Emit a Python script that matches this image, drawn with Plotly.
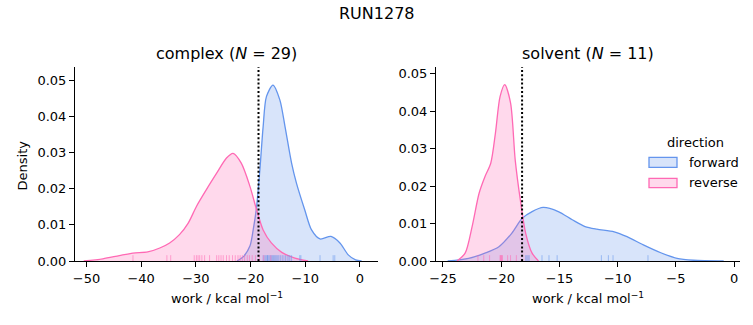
import plotly.graph_objects as go

# ---- data ---------------------------------------------------------------
title = "RUN1278"
phases = ["complex", "solvent"]
n_pairs = [29, 11]
directions = ["forward", "reverse"]

# kernel density curves (work in kcal/mol, density)
complex_fwd_x = [-22.5, -21.3, -20.1, -19.5, -18.9, -18.3, -17.7, -17.1, -15.9, -14.65,
                 -13.7, -12.5, -11.6, -10.1, -8.85, -7.3, -5.3, -3.66, -2.14, -0.8, 0.3]
complex_fwd_density = [0.0, 0.0012, 0.0042, 0.0088, 0.0150, 0.0252, 0.0372, 0.0455, 0.0487, 0.0446,
                       0.0372, 0.0271, 0.0215, 0.0142, 0.0086, 0.0061, 0.0068, 0.0050, 0.0017, 0.0003, 0.0]

complex_rev_x = [-50.5, -47.0, -44.0, -41.5, -38.8, -36.6, -34.8, -33.0, -31.4, -29.9, -28.1,
                 -26.2, -24.4, -23.2, -21.7, -20.1, -18.9, -17.7, -16.2, -14.3, -11.9, -9.5]
complex_rev_density = [0.0, 0.0006, 0.0015, 0.0022, 0.0025, 0.0036, 0.0050, 0.0073, 0.0105, 0.0151, 0.0197,
                       0.0243, 0.0285, 0.0298, 0.0271, 0.0206, 0.0142, 0.0086, 0.0050, 0.0024, 0.0008, 0.0]

solvent_fwd_x = [-24.6, -22.8, -21.4, -20.2, -19.1, -18.2, -17.35, -16.4, -15.1, -13.9, -12.8,
                 -11.8, -10.3, -9.2, -7.8, -6.3, -4.9, -3.5, -0.9]
solvent_fwd_density = [0.0, 0.0007, 0.0021, 0.0038, 0.0074, 0.0114, 0.0132, 0.0143, 0.0132, 0.0110, 0.0092,
                       0.0085, 0.0078, 0.0065, 0.0043, 0.0022, 0.0007, 0.0002, 0.0]

solvent_rev_x = [-23.8, -23.1, -22.5, -21.9, -21.4, -20.9, -20.5, -20.1, -19.7, -19.2, -18.8,
                 -18.36, -17.9, -17.35, -16.8]
solvent_rev_density = [0.0, 0.0021, 0.0092, 0.0181, 0.0225, 0.0261, 0.0341, 0.0439, 0.0471, 0.0422, 0.0270,
                       0.0163, 0.0074, 0.0021, 0.0]

# individual work values (rug)
complex_fwd_work = [-17.7, -17.4, -17.2, -17.0, -16.9, -16.8, -16.6, -16.4, -16.2, -16.0, -15.8, -15.6,
                    -15.4, -15.2, -15.0, -14.8, -14.5, -14.2, -13.9, -13.6, -13.3, -13.0, -12.8, -12.5,
                    -11.0, -10.8, -7.3, -4.9, -4.6]
complex_rev_work = [-41.5, -35.3, -34.6, -30.3, -29.9, -29.6, -29.3, -28.9, -28.4, -27.5, -26.2, -25.8,
                    -25.4, -25.0, -24.4, -23.9, -23.3, -22.8, -22.3, -21.9, -21.5, -21.1, -20.6, -20.2,
                    -19.7, -19.1, -18.4, -17.6, -16.3]
solvent_fwd_work = [-17.9, -17.8, -17.7, -17.6, -16.5, -15.9, -15.2, -11.4, -10.8, -10.4, -7.4]
solvent_rev_work = [-22.0, -21.5, -21.0, -20.1, -20.05, -20.0, -19.95, -19.9, -19.45, -19.2, -18.7]

# free energy estimate marked by the dotted line
complex_dg = -18.55
solvent_dg = -18.21

complex_ticks = [-50, -40, -30, -20, -10, 0]
solvent_ticks = [-25, -20, -15, -10, -5, 0]
density_ticks = [0.00, 0.01, 0.02, 0.03, 0.04, 0.05]

# ---- styling ------------------------------------------------------------
FONT = "DejaVu Sans"
W, H = 753, 325
line_col = {"forward": "rgb(100,149,237)", "reverse": "rgb(255,105,180)"}
fill_col = {"forward": "rgba(100,149,237,0.25)", "reverse": "rgba(255,105,180,0.25)"}
rug_col = {"forward": "rgba(100,149,237,0.55)", "reverse": "rgba(255,105,180,0.55)"}

xdom = [[75 / W, 378 / W], [436 / W, 740 / W]]
ydom = [(H - 261) / H, (H - 67) / H]
xranges = [[-52.1, 3.3], [-25.6, 0.5]]
yranges = [[0, 0.0537], [0, 0.0518]]

curves = {
    ("complex", "forward"): (complex_fwd_x, complex_fwd_density),
    ("complex", "reverse"): (complex_rev_x, complex_rev_density),
    ("solvent", "forward"): (solvent_fwd_x, solvent_fwd_density),
    ("solvent", "reverse"): (solvent_rev_x, solvent_rev_density),
}
rugs = {
    ("complex", "forward"): complex_fwd_work,
    ("complex", "reverse"): complex_rev_work,
    ("solvent", "forward"): solvent_fwd_work,
    ("solvent", "reverse"): solvent_rev_work,
}
dgs = {"complex": complex_dg, "solvent": solvent_dg}

fig = go.Figure()

for i, phase in enumerate(phases):
    xa = "x" if i == 0 else "x2"
    ya = "y" if i == 0 else "y2"
    for d in directions:
        xs, ds = curves[(phase, d)]
        fig.add_trace(go.Scatter(
            x=xs, y=ds, mode="lines", xaxis=xa, yaxis=ya,
            line=dict(color=line_col[d], width=1.3, shape="spline", smoothing=0.8),
            fill="tozeroy", fillcolor=fill_col[d], showlegend=False, hoverinfo="skip"))
    rug_h = 0.03 * yranges[i][1]
    for d in directions:
        rx, ry = [], []
        for v in rugs[(phase, d)]:
            rx += [v, v, None]
            ry += [0, rug_h, None]
        fig.add_trace(go.Scatter(
            x=rx, y=ry, mode="lines", xaxis=xa, yaxis=ya,
            line=dict(color=rug_col[d], width=1), showlegend=False, hoverinfo="skip"))
    fig.add_shape(type="line", xref=xa, yref=f"{ya} domain",
                  x0=dgs[phase], x1=dgs[phase], y0=0, y1=1,
                  line=dict(color="black", width=2, dash="2px,2.2px"))

axis_common = dict(showline=True, linecolor="black", linewidth=1, ticks="outside",
                   ticklen=5, tickwidth=1, tickcolor="black", showgrid=False, zeroline=False,
                   tickfont=dict(family=FONT, size=13, color="black"), mirror=False,
                   automargin=False)

fig.update_layout(
    width=W, height=H, autosize=False,
    margin=dict(l=0, r=0, t=0, b=0, pad=0, autoexpand=False),
    paper_bgcolor="white", plot_bgcolor="white", showlegend=False,
    xaxis=dict(domain=xdom[0], range=xranges[0], tickvals=complex_ticks, anchor="y", **axis_common),
    yaxis=dict(domain=ydom, range=yranges[0], tickvals=density_ticks, tickformat=".2f", anchor="x", **axis_common),
    xaxis2=dict(domain=xdom[1], range=xranges[1], tickvals=solvent_ticks, anchor="y2", **axis_common),
    yaxis2=dict(domain=ydom, range=yranges[1], tickvals=density_ticks, tickformat=".2f", anchor="x2", **axis_common),
)


def label(text, px, py, size=13, **kw):
    return dict(text=text, x=px / W, y=1 - py / H, xref="paper", yref="paper",
                xanchor=kw.pop("xanchor", "center"), yanchor="middle", showarrow=False,
                font=dict(family=FONT, size=size, color="black"), **kw)


ann = [label(title, 376.5, 13, size=16)]
for i, phase in enumerate(phases):
    cx = (xdom[i][0] + xdom[i][1]) / 2 * W
    ann.append(label(f"{phase} (<i>N</i> = {n_pairs[i]})", cx, 54, size=16))
    ann.append(label("work / kcal mol<sup>−1</sup>", cx, 298))
ann.append(label("Density", 21.5, 166, textangle=-90))

# legend
ann.append(label("direction", 695, 142))
legend_rows = [(157.3, 167.3, 162), (178.3, 187.7, 183)]
for d, (top, bot, ty) in zip(directions, legend_rows):
    fig.add_shape(type="rect", xref="paper", yref="paper",
                  x0=649 / W, x1=677 / W, y0=1 - bot / H, y1=1 - top / H,
                  line=dict(color=line_col[d], width=1.3), fillcolor=fill_col[d])
    ann.append(label(d, 687, ty, xanchor="left"))

fig.update_layout(annotations=ann)
fig.write_html("out.html")
